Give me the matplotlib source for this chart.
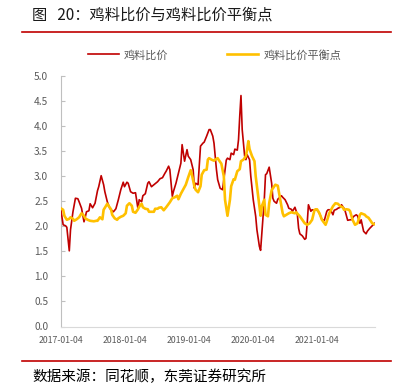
import numpy as np
import pandas as pd
import matplotlib
matplotlib.use("Agg")
import matplotlib.pyplot as plt
from matplotlib.lines import Line2D

plt.rcParams["font.family"] = ["Noto Sans CJK SC", "DejaVu Sans"]

# 周度数据, 以 2017-01-04 起的周数表示
start = pd.Timestamp("2017-01-04")

red_weeks = [0, 2, 4, 5, 7, 8, 10, 12, 14, 15, 17, 19, 20, 21, 23, 24, 26, 28, 30, 31,
             33, 35, 36, 38, 40, 41, 43, 45, 47, 49, 51, 52, 54, 55, 57, 59, 61, 63, 64, 66,
             67, 69, 71, 72, 74, 76, 77, 79, 81, 83, 85, 86, 88, 89, 91, 92, 94, 96, 98, 99,
             101, 103, 104, 106, 108, 109, 110, 112, 113, 114, 116, 117, 119, 121, 122, 124,
             125, 127, 128, 130, 132, 133, 135, 136, 138, 139, 141, 142, 144, 145, 146, 147,
             148, 150, 151, 152, 154, 155, 157, 159, 160, 162, 163, 164, 166, 167, 168, 170,
             172, 173, 174, 176, 177, 180, 181, 183, 185, 186, 188, 189, 191, 193, 194, 195,
             197, 199, 200, 201, 202, 204, 205, 207, 208, 210, 212, 213, 215, 217, 218, 220,
             222, 223, 225, 226, 228, 229, 231, 232, 234, 236, 237, 239, 241, 242, 244, 245,
             247, 249, 250, 252, 254, 256]
red_vals = [2.35, 2.03, 2.01, 1.98, 1.51, 1.93, 2.29, 2.56, 2.55, 2.49, 2.36, 2.09, 2.18, 2.29,
            2.31, 2.45, 2.37, 2.46, 2.71, 2.79, 3.01, 2.83, 2.69, 2.49, 2.36, 2.33, 2.29, 2.35,
            2.53, 2.73, 2.88, 2.79, 2.88, 2.86, 2.69, 2.66, 2.67, 2.35, 2.53, 2.49, 2.61, 2.65,
            2.86, 2.89, 2.79, 2.83, 2.85, 2.89, 2.95, 2.97, 3.06, 3.10, 3.20, 3.13, 2.60, 2.70,
            2.86, 3.06, 3.26, 3.63, 3.30, 3.53, 3.40, 3.33, 3.13, 2.76, 2.86, 2.83, 3.20, 3.60,
            3.66, 3.68, 3.80, 3.93, 3.93, 3.80, 3.66, 3.13, 2.93, 2.76, 2.73, 2.93, 3.32, 3.36,
            3.33, 3.46, 3.43, 3.54, 3.52, 3.73, 4.20, 4.61, 3.93, 3.40, 3.33, 3.43, 3.33, 3.00,
            2.53, 2.20, 1.93, 1.60, 1.52, 1.86, 2.53, 3.03, 3.05, 3.18, 2.86, 2.56, 2.50, 2.46,
            2.54, 2.61, 2.58, 2.53, 2.43, 2.36, 2.34, 2.30, 2.38, 2.23, 1.96, 1.85, 1.81, 1.74,
            1.76, 2.06, 2.43, 2.30, 2.33, 2.32, 2.34, 2.30, 2.20, 2.13, 2.12, 2.30, 2.33, 2.33,
            2.23, 2.32, 2.34, 2.36, 2.38, 2.43, 2.36, 2.30, 2.12, 2.13, 2.13, 2.20, 2.23, 2.21,
            2.06, 2.13, 1.90, 1.85, 1.90, 1.96, 2.01, 2.06]

yel_weeks = [0, 2, 3, 5, 7, 8, 10, 11, 13, 15, 17, 19, 20, 22, 24, 27, 29, 30, 32, 34, 35,
             38, 39, 41, 42, 44, 46, 47, 49, 51, 53, 54, 56, 58, 59, 61, 63, 64, 66, 67, 69,
             71, 72, 74, 76, 77, 79, 80, 82, 84, 86, 89, 91, 93, 95, 96, 98, 100, 102, 104,
             106, 107, 109, 110, 112, 114, 115, 117, 119, 120, 121, 123, 125, 126, 128, 129,
             131, 133, 134, 136, 138, 139, 141, 142, 144, 146, 147, 149, 151, 152, 153, 154,
             156, 158, 159, 161, 163, 164, 166, 167, 169, 170, 172, 175, 177, 181, 182, 184,
             186, 188, 191, 192, 195, 197, 199, 201, 203, 205, 207, 209, 211, 213, 216, 217,
             219, 222, 224, 226, 228, 230, 231, 233, 235, 236, 238, 240, 242, 244, 245, 248,
             249, 251, 253, 254, 256]
yel_vals = [2.36, 2.33, 2.21, 2.13, 2.15, 2.18, 2.15, 2.11, 2.14, 2.18, 2.26, 2.21, 2.16, 2.13,
            2.11, 2.10, 2.11, 2.11, 2.18, 2.14, 2.33, 2.45, 2.41, 2.34, 2.23, 2.16, 2.13, 2.16,
            2.19, 2.21, 2.26, 2.41, 2.46, 2.41, 2.29, 2.27, 2.34, 2.39, 2.45, 2.38, 2.35, 2.34,
            2.29, 2.29, 2.29, 2.35, 2.35, 2.37, 2.38, 2.32, 2.38, 2.48, 2.56, 2.58, 2.61, 2.54,
            2.65, 2.74, 2.83, 2.98, 3.12, 3.03, 2.80, 2.73, 2.68, 2.80, 3.03, 3.12, 3.13, 3.33,
            3.36, 3.33, 3.31, 3.33, 3.36, 3.32, 3.25, 3.00, 2.53, 2.21, 2.53, 2.80, 2.94, 2.93,
            3.10, 3.14, 3.30, 3.33, 3.40, 3.53, 3.70, 3.54, 3.40, 3.30, 3.00, 2.60, 2.21, 2.40,
            2.53, 2.23, 2.20, 2.46, 2.72, 2.83, 2.81, 2.26, 2.20, 2.23, 2.26, 2.28, 2.26, 2.28,
            2.20, 2.13, 2.06, 2.03, 2.06, 2.13, 2.33, 2.34, 2.26, 2.13, 2.03, 2.10, 2.26, 2.40,
            2.46, 2.45, 2.40, 2.38, 2.33, 2.34, 2.33, 2.30, 2.13, 2.03, 2.06, 2.23, 2.26, 2.23,
            2.20, 2.17, 2.10, 2.06, 2.04]

tick_labels = ["2017-01-04", "2018-01-04", "2019-01-04", "2020-01-04", "2021-01-04"]
y_ticks = np.arange(0, 5.01, 0.5)

red_dates = start + pd.to_timedelta(np.array(red_weeks) * 7, unit="D")
yel_dates = start + pd.to_timedelta(np.array(yel_weeks) * 7, unit="D")

fig = plt.figure(figsize=(3.96, 3.85), dpi=100)
ax = fig.add_axes([60.7 / 396, 1 - 326.5 / 385, (375 - 60.7) / 396, (326.5 - 76) / 385])

ax.plot(red_dates, red_vals, color="#C00000", lw=1.2, label="鸡料比价", zorder=3)
ax.plot(yel_dates, yel_vals, color="#FFC000", lw=1.9, label="鸡料比价平衡点", zorder=4)

ax.set_xlim(start, start + pd.Timedelta(days=1794))
ax.set_ylim(0, 5)
ax.set_yticks(y_ticks)
ax.set_yticklabels([f"{v:.1f}" for v in y_ticks])
ax.set_xticks([pd.Timestamp(t) for t in tick_labels])
ax.set_xticklabels(tick_labels)

for s in ["top", "right"]:
    ax.spines[s].set_visible(False)
ax.spines["left"].set_color("#BFBFBF")
ax.spines["bottom"].set_color("#D9D9D9")
ax.tick_params(axis="y", direction="in", length=3, color="#BFBFBF",
               labelsize=7.3, labelcolor="#595959", pad=9)
ax.tick_params(axis="x", length=0, labelsize=6.3, labelcolor="#595959", pad=7)

ax.legend(loc="center", bbox_to_anchor=(214.5 / 396, 1 - 55 / 385),
          bbox_transform=fig.transFigure, ncol=2, frameon=False, fontsize=8,
          labelcolor="#595959", handlelength=2.8, handletextpad=0.45,
          columnspacing=5.3)

# 标题与来源
fig.text(32 / 396, 1 - 15 / 385, "图   20：鸡料比价与鸡料比价平衡点",
         fontsize=11, va="center", ha="left", color="#1a1a1a")
fig.text(32 / 396, 1 - 377 / 385, "数据来源：同花顺，东莞证券研究所",
         fontsize=10.5, va="center", ha="left", color="#000000")
for yy in [31.7, 360.7]:
    fig.add_artist(Line2D([22 / 396, 391 / 396], [1 - yy / 385] * 2,
                          transform=fig.transFigure, color="#C00000", lw=1.2))

fig.savefig("out.png", dpi=100)
